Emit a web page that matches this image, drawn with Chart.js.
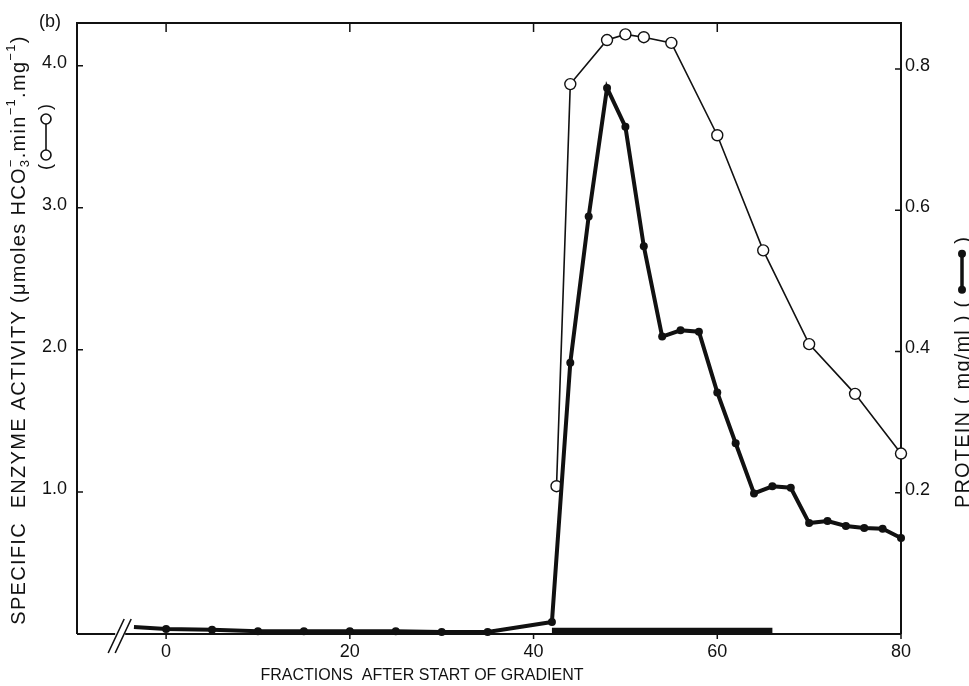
<!DOCTYPE html>
<html>
<head>
<meta charset="utf-8">
<script src="https://cdn.jsdelivr.net/npm/chart.js@4.4.0/dist/chart.umd.min.js"></script>
<style>
  html, body { margin: 0; padding: 0; background: #fff; }
  #wrap { width: 969px; height: 686px; }
</style>
</head>
<body>
<div id="wrap"><canvas id="chart" width="969" height="686"></canvas></div>
<script>
// Specific enzyme activity (open circles, left axis)
var enzymeFractions = [42.5, 44, 48, 50, 52, 55, 60, 65, 70, 75, 80];
var enzymeActivity = [1.04, 3.87, 4.18, 4.22, 4.20, 4.16, 3.51, 2.70, 2.04, 1.69, 1.27];

// Protein (filled circles, right axis)
var proteinFractions = [-3.5, 0, 5, 10, 15, 20, 25, 30, 35, 42, 44, 46, 48, 50, 52, 54, 56, 58, 60, 62, 64, 66, 68, 70, 72, 74, 76, 78, 80];
var proteinConc = [0.010, 0.007, 0.006, 0.004, 0.004, 0.004, 0.004, 0.003, 0.003, 0.017, 0.384, 0.591, 0.773, 0.718, 0.549, 0.421, 0.430, 0.428, 0.342, 0.270, 0.199, 0.209, 0.207, 0.157, 0.160, 0.153, 0.150, 0.149, 0.136];

// pooled fractions bar on the baseline
var poolFractions = [42, 66];
var poolLevel = [0.004, 0.004];

var xTicks = [0, 20, 40, 60, 80];
var xTopTicks = [0, 20, 40, 60];
var leftTicks = [1.0, 2.0, 3.0, 4.0];
var rightTicks = [0.2, 0.4, 0.6, 0.8];
var xRange = [-9.7, 80];
var leftRange = [0, 4.3];
var rightRange = [0, 0.865];
var xBreakAt = -5;

var INK = '#111';
var FONT = '"Liberation Sans", Arial, sans-serif';

function pts(xs, ys) {
  return xs.map(function (x, i) { return { x: x, y: ys[i] }; });
}

// draws a list of text runs along the current x direction, centred on 0
function drawRuns(ctx, runs, spacing) {
  var total = 0;
  ctx.letterSpacing = spacing + 'px';
  runs.forEach(function (r) {
    ctx.font = r.size + 'px ' + FONT;
    r.w = ctx.measureText(r.t).width;
    if (!r.stay) total += r.w;
  });
  var x = -total / 2;
  runs.forEach(function (r) {
    ctx.font = r.size + 'px ' + FONT;
    ctx.fillText(r.t, x, r.dy || 0);
    if (!r.stay) x += r.w;
  });
  ctx.letterSpacing = '0px';
  return total;
}

var framePlugin = {
  id: 'frame',
  beforeDatasetsDraw: function (chart) {
    var ctx = chart.ctx, a = chart.chartArea;
    var xs = chart.scales.x, yl = chart.scales.y, yr = chart.scales.y1;
    var bx = xs.getPixelForValue(xBreakAt);
    ctx.save();
    ctx.strokeStyle = INK;
    ctx.lineWidth = 2;
    ctx.beginPath();
    ctx.moveTo(a.left, a.bottom); ctx.lineTo(a.left, a.top);
    ctx.lineTo(a.right, a.top); ctx.lineTo(a.right, a.bottom);
    ctx.moveTo(a.left, a.bottom); ctx.lineTo(bx - 5, a.bottom);
    ctx.moveTo(bx + 5, a.bottom); ctx.lineTo(a.right, a.bottom);
    ctx.stroke();

    // axis break
    ctx.lineWidth = 1.6;
    ctx.beginPath();
    ctx.moveTo(bx - 12, a.bottom + 19); ctx.lineTo(bx + 4, a.bottom - 15);
    ctx.moveTo(bx - 5, a.bottom + 19); ctx.lineTo(bx + 11, a.bottom - 15);
    ctx.stroke();

    ctx.lineWidth = 1.5;
    ctx.beginPath();
    leftTicks.forEach(function (v) {
      var y = yl.getPixelForValue(v);
      ctx.moveTo(a.left, y); ctx.lineTo(a.left + 6, y);
    });
    rightTicks.forEach(function (v) {
      var y = yr.getPixelForValue(v);
      ctx.moveTo(a.right, y); ctx.lineTo(a.right - 6, y);
    });
    xTicks.forEach(function (v) {
      var x = xs.getPixelForValue(v);
      ctx.moveTo(x, a.bottom); ctx.lineTo(x, a.bottom + 5);
    });
    xTopTicks.forEach(function (v) {
      var x = xs.getPixelForValue(v);
      ctx.moveTo(x, a.top); ctx.lineTo(x, a.top + 9);
    });
    ctx.stroke();
    ctx.restore();
  },
  afterDraw: function (chart) {
    var ctx = chart.ctx, a = chart.chartArea;
    var xs = chart.scales.x, yl = chart.scales.y, yr = chart.scales.y1;
    ctx.save();
    ctx.fillStyle = INK;
    ctx.strokeStyle = INK;
    ctx.font = '18px ' + FONT;
    ctx.textBaseline = 'middle';

    ctx.textAlign = 'right';
    leftTicks.forEach(function (v) {
      ctx.fillText(v.toFixed(1), a.left - 10, yl.getPixelForValue(v) - 3);
    });
    ctx.textAlign = 'left';
    rightTicks.forEach(function (v) {
      ctx.fillText(v.toFixed(1), a.right + 4, yr.getPixelForValue(v) - 3);
    });
    ctx.textAlign = 'center';
    ctx.textBaseline = 'top';
    xTicks.forEach(function (v) {
      ctx.fillText(String(v), xs.getPixelForValue(v), a.bottom + 9);
    });

    ctx.font = '16px ' + FONT;
    ctx.textBaseline = 'alphabetic';
    ctx.fillText('FRACTIONS  AFTER START OF GRADIENT', 422, 680);

    ctx.font = '18px ' + FONT;
    ctx.textAlign = 'left';
    ctx.fillText('(b)', 39, 27);

    // left title
    ctx.save();
    ctx.translate(25, 330);
    ctx.rotate(-Math.PI / 2);
    ctx.textAlign = 'left';
    drawRuns(ctx, [
      { t: 'SPECIFIC  ENZYME ACTIVITY (', size: 20 },
      { t: '\u03bc', size: 20 },
      { t: 'moles HCO', size: 20 },
      { t: '3', size: 13, dy: 4, stay: true },
      { t: '\u2212', size: 13, dy: -10 },
      { t: '.min', size: 20 },
      { t: '\u22121', size: 13, dy: -10 },
      { t: '.mg', size: 20 },
      { t: '\u22121', size: 13, dy: -10 },
      { t: ')', size: 20 }
    ], 1.3);
    ctx.restore();

    // left legend key (o-o)
    ctx.save();
    ctx.translate(46, 137);
    ctx.rotate(-Math.PI / 2);
    ctx.font = '18px ' + FONT;
    ctx.textAlign = 'center';
    ctx.textBaseline = 'middle';
    ctx.fillText('(', -30, 0);
    ctx.fillText(')', 30, 0);
    ctx.lineWidth = 1.6;
    ctx.beginPath(); ctx.moveTo(-18, 0); ctx.lineTo(18, 0); ctx.stroke();
    ctx.fillStyle = '#fff';
    [-18, 18].forEach(function (p) {
      ctx.beginPath(); ctx.arc(p, 0, 5, 0, Math.PI * 2); ctx.fill(); ctx.stroke();
    });
    ctx.restore();

    // right title
    ctx.save();
    ctx.translate(969, 372);
    ctx.rotate(-Math.PI / 2);
    ctx.font = '20px ' + FONT;
    ctx.letterSpacing = '1.2px';
    ctx.textAlign = 'left';
    ctx.textBaseline = 'alphabetic';
    var t1 = 'PROTEIN ( mg/ml ) (';
    var w1 = ctx.measureText(t1).width;
    var w2 = ctx.measureText(')').width;
    var total = w1 + 56 + w2;
    var x0 = -total / 2;
    ctx.fillText(t1, x0, 0);
    ctx.fillText(')', x0 + w1 + 56, 0);
    ctx.lineWidth = 3.5;
    ctx.beginPath(); ctx.moveTo(x0 + w1 + 10, -7); ctx.lineTo(x0 + w1 + 46, -7); ctx.stroke();
    [x0 + w1 + 10, x0 + w1 + 46].forEach(function (p) {
      ctx.beginPath(); ctx.arc(p, -7, 4, 0, Math.PI * 2); ctx.fill();
    });
    ctx.restore();

    ctx.restore();
  }
};

var ctx = document.getElementById('chart').getContext('2d');
new Chart(ctx, {
  type: 'scatter',
  data: {
    datasets: [
      {
        label: 'pool',
        data: pts(poolFractions, poolLevel),
        yAxisID: 'y1',
        showLine: true,
        borderColor: INK,
        borderWidth: 7,
        borderCapStyle: 'butt',
        pointRadius: 0,
        clip: false
      },
      {
        label: 'Protein',
        data: pts(proteinFractions, proteinConc),
        yAxisID: 'y1',
        showLine: true,
        borderColor: INK,
        backgroundColor: INK,
        borderWidth: 4,
        pointRadius: proteinFractions.map(function (f, i) { return i === 0 ? 0 : 4; }),
        pointBorderWidth: 0,
        pointBackgroundColor: INK,
        tension: 0,
        clip: false
      },
      {
        label: 'Enzyme',
        data: pts(enzymeFractions, enzymeActivity),
        yAxisID: 'y',
        showLine: true,
        borderColor: INK,
        borderWidth: 1.6,
        pointRadius: 5.5,
        pointBorderWidth: 1.4,
        pointBorderColor: INK,
        pointBackgroundColor: '#fff',
        tension: 0,
        clip: false
      }
    ]
  },
  options: {
    responsive: false,
    animation: false,
    devicePixelRatio: 1,
    layout: { padding: { left: 77, right: 68, top: 23, bottom: 52 } },
    plugins: { legend: { display: false }, tooltip: { enabled: false } },
    scales: {
      x: { type: 'linear', display: false, min: xRange[0], max: xRange[1] },
      y: { type: 'linear', display: false, min: leftRange[0], max: leftRange[1] },
      y1: { type: 'linear', display: false, position: 'right', min: rightRange[0], max: rightRange[1] }
    }
  },
  plugins: [framePlugin]
});
</script>
</body>
</html>
